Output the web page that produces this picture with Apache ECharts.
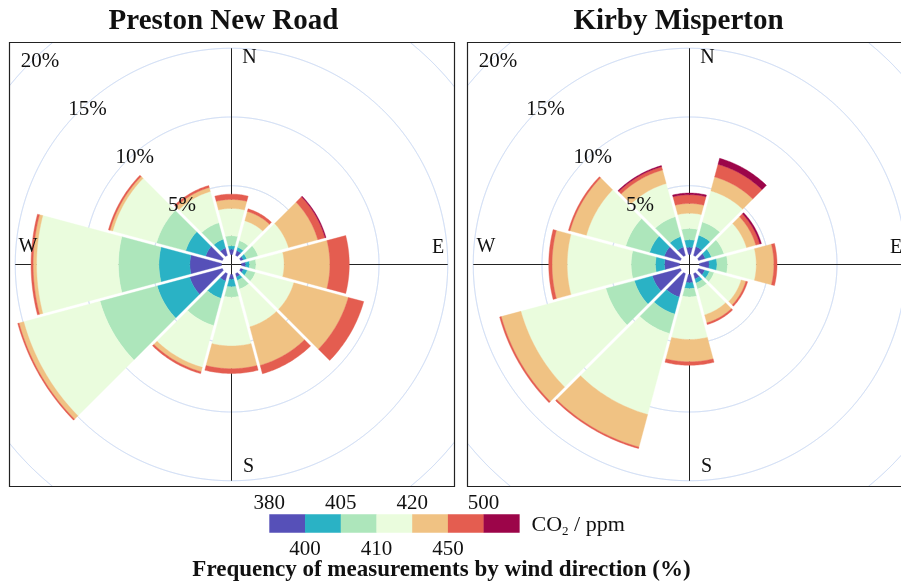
<!DOCTYPE html>
<html><head><meta charset="utf-8">
<script src="https://cdn.jsdelivr.net/npm/echarts@6/dist/echarts.min.js"></script>
<style>html,body{margin:0;padding:0;background:#fff}#c{width:901px;height:587px}</style>
</head><body><div id="c"></div>
<script>
// ---------------- data ----------------
const panelTitles = ['Preston New Road', 'Kirby Misperton'];
const directions = [0, 30, 60, 90, 120, 150, 180, 210, 240, 270, 300, 330];
const dirLabels = ['N', 'E', 'S', 'W'];
const dirAngles = [0, 90, 180, 270];
const radiusTicks = [5, 10, 15, 20];
const binEdges = ['380', '400', '405', '410', '420', '450', '500'];
const binColors = ['#5650B8', '#2AB2C5', '#ADE6BB', '#EAFCDD', '#F0C283', '#E45D50', '#9C0549'];
const bottomTitle = 'Frequency of measurements by wind direction (%)';

// Preston New Road: % of measurements per direction sector, per CO2 bin
const pnr_380_400 = [0.39, 0.35, 0.20, 0.30, 0.20, 0.25, 0.35, 0.55, 2.45, 2.30, 1.25, 0.55];
const pnr_400_405 = [0.24, 0.25, 0.25, 0.28, 0.30, 0.25, 0.55, 1.30, 2.45, 2.25, 1.50, 0.65];
const pnr_405_410 = [0.73, 0.50, 0.85, 0.47, 0.60, 0.65, 0.75, 2.05, 4.30, 2.95, 2.20, 1.25];
const pnr_410_420 = [1.99, 1.50, 2.30, 2.05, 2.90, 2.85, 3.55, 3.15, 5.75, 5.95, 3.30, 2.35];
const pnr_420_450 = [0.65, 0.70, 2.20, 3.33, 4.10, 2.90, 1.65, 0.33, 0.35, 0.25, 0.20, 0.30];
const pnr_450_500 = [0.39, 0.20, 0.55, 1.41, 1.16, 0.63, 0.35, 0.14, 0.10, 0.15, 0.12, 0.15];
const pnr_500_up  = [0.00, 0.00, 0.07, 0.00, 0.00, 0.00, 0.00, 0.00, 0.00, 0.00, 0.00, 0.00];

// Kirby Misperton
const km_380_400 = [0.53, 0.65, 0.50, 0.70, 0.45, 0.40, 0.60, 1.75, 2.10, 1.09, 1.20, 0.62];
const km_400_405 = [0.54, 0.85, 0.45, 0.57, 0.35, 0.30, 0.42, 1.28, 1.35, 0.66, 1.10, 0.78];
const km_405_410 = [0.82, 1.00, 0.95, 0.77, 0.35, 0.45, 0.61, 1.47, 2.15, 1.77, 1.80, 1.50];
const km_410_420 = [1.11, 2.35, 1.70, 2.09, 2.05, 1.95, 3.10, 6.10, 6.40, 4.65, 2.97, 2.50];
const km_420_450 = [0.71, 1.05, 0.70, 1.28, 0.35, 0.60, 1.62, 2.45, 1.48, 1.10, 1.23, 1.02];
const km_450_500 = [0.64, 0.95, 0.30, 0.23, 0.13, 0.13, 0.25, 0.11, 0.12, 0.24, 0.12, 0.25];
const km_500_up  = [0.12, 0.45, 0.12, 0.00, 0.00, 0.00, 0.00, 0.00, 0.00, 0.00, 0.00, 0.08];

const sites = [
  [pnr_380_400, pnr_400_405, pnr_405_410, pnr_410_420, pnr_420_450, pnr_450_500, pnr_500_up],
  [km_380_400, km_400_405, km_405_410, km_410_420, km_420_450, km_450_500, km_500_up]
];

// ---------------- layout / style ----------------
const FONT = '"Liberation Serif", "DejaVu Serif", serif';
const centers = [[231.5, 264.5], [689.5, 264.5]];
const frames = [[9.5, 42.5, 445, 444], [467.5, 42.5, 444, 444]];
const SECTOR_HALF = 15;   // degrees
const GAP = 1.6;          // px, half gap between sectors
const GRID_COLOR = '#C2D4F4';

function norm(a) { return ((a % 360) + 360) % 360; }

function buildSegments(bins) {
  const out = [];
  directions.forEach((ang, i) => {
    let cum = 0;
    bins.forEach((arr, b) => {
      const v = arr[i];
      if (v > 0) out.push([cum, cum + v, ang, b]);
      cum += v;
    });
  });
  return out;
}

function renderSeg(params, api) {
  const v0 = api.value(0), v1 = api.value(1), ang = api.value(2), bin = api.value(3);
  const cs = params.coordSys;
  const cx = cs.cx, cy = cs.cy;
  const pt = (v, a) => api.coord([v, norm(a)]);
  const rad = (v) => { const p = pt(v, ang); return Math.hypot(p[0] - cx, p[1] - cy); };
  const r0 = rad(v0), r1 = rad(v1);
  const d0 = Math.asin(Math.min(0.99, GAP / r0)) * 180 / Math.PI;
  const d1 = Math.asin(Math.min(0.99, GAP / r1)) * 180 / Math.PI;
  const pts = [];
  const N = 30;
  const s1 = ang - SECTOR_HALF + d1, e1 = ang + SECTOR_HALF - d1;
  for (let k = 0; k <= N; k++) pts.push(pt(v1, s1 + (e1 - s1) * k / N));
  const s0 = ang - SECTOR_HALF + d0, e0 = ang + SECTOR_HALF - d0;
  for (let k = N; k >= 0; k--) pts.push(pt(v0, s0 + (e0 - s0) * k / N));
  const c = binColors[bin];
  return { type: 'polygon', shape: { points: pts }, style: { fill: c, stroke: c, lineWidth: 0.4 } };
}

function makeGridRenderer(frame) {
  const x0 = frame[0], y0 = frame[1], x1 = frame[0] + frame[2], y1 = frame[1] + frame[3];
  return function (params, api) {
    const v = api.value(0);
    const children = [];
    let cur = [];
    for (let a = 0; a <= 3600; a++) {
      const p = api.coord([v, norm(a / 10)]);
      const inside = p[0] >= x0 && p[0] <= x1 && p[1] >= y0 && p[1] <= y1;
      if (inside) cur.push(p);
      else if (cur.length) { if (cur.length > 1) children.push(cur); cur = []; }
    }
    if (cur.length > 1) children.push(cur);
    return { type: 'group', children: children.map(pts => ({ type: 'polyline', shape: { points: pts },
      style: { stroke: GRID_COLOR, lineWidth: 1, fill: null } })) };
  };
}

function renderCross(params, api) {
  const cs = params.coordSys;
  const p = api.coord([15, norm(api.value(0))]);
  return { type: 'line', shape: { x1: cs.cx, y1: cs.cy, x2: p[0], y2: p[1] },
           style: { stroke: '#222', lineWidth: 1 } };
}

function renderTick(params, api) {
  const v = api.value(0);
  const p = api.coord([0.98 * v - 0.73, 315.4]);
  return { type: 'text', x: p[0] - 2.2, y: p[1] - 11.5,
           style: { text: v + '%', font: '21px ' + FONT, fill: '#111', align: 'center', verticalAlign: 'middle' } };
}

const dirOffsets = [[18, 0], [0, -17], [17, -4], [3, -18]];
function renderDir(params, api) {
  const i = params.dataIndex;
  const p = api.coord([14.3, dirAngles[i]]);
  return { type: 'text', x: p[0] + dirOffsets[i][0], y: p[1] + dirOffsets[i][1],
           style: { text: dirLabels[i], font: '20px ' + FONT, fill: '#111', align: 'center', verticalAlign: 'middle' } };
}

const polar = [], angleAxis = [], radiusAxis = [], series = [];
centers.forEach((c, pi) => {
  polar.push({ center: c, radius: [10, 285] });
  angleAxis.push({ polarIndex: pi, type: 'value', min: 0, max: 360, startAngle: 90, clockwise: true,
    axisLine: { show: false }, axisTick: { show: false }, axisLabel: { show: false }, splitLine: { show: false } });
  radiusAxis.push({ polarIndex: pi, type: 'value', min: 0, max: 20, interval: 5,
    axisLine: { show: false }, axisTick: { show: false }, axisLabel: { show: false }, splitLine: { show: false } });
  series.push({ type: 'custom', coordinateSystem: 'polar', polarIndex: pi, z: 0, silent: true,
    data: radiusTicks.map(v => [v]), encode: { radius: 0 }, renderItem: makeGridRenderer(frames[pi]) });
  series.push({ type: 'custom', coordinateSystem: 'polar', polarIndex: pi, z: 1, silent: true,
    data: dirAngles.map(a => [a]), encode: { angle: 0 }, renderItem: renderCross });
  series.push({ type: 'custom', coordinateSystem: 'polar', polarIndex: pi, z: 2, silent: true,
    data: buildSegments(sites[pi]), encode: { radius: 1, angle: 2 }, renderItem: renderSeg });
  series.push({ type: 'custom', coordinateSystem: 'polar', polarIndex: pi, z: 3, silent: true,
    data: radiusTicks.map(v => [v]), encode: { radius: 0 }, renderItem: renderTick });
  series.push({ type: 'custom', coordinateSystem: 'polar', polarIndex: pi, z: 3, silent: true,
    data: dirAngles.map(a => [a]), encode: { angle: 0 }, renderItem: renderDir });
});

// graphics: frames, titles, legend
const graphic = [];
frames.forEach(f => graphic.push({ type: 'rect', z: 60, silent: true,
  shape: { x: f[0], y: f[1], width: f[2], height: f[3] }, style: { fill: null, stroke: '#222', lineWidth: 1.2 } }));
const titleX = [223.5, 678.5];
panelTitles.forEach((t, i) => graphic.push({ type: 'text', z: 100, x: titleX[i], y: 22,
  style: { text: t, font: 'bold 29px ' + FONT, fill: '#111', align: 'center', verticalAlign: 'middle' } }));

const LX = 269.3, LW = 35.72, LY = 514.3, LH = 18.4;
binColors.forEach((c, i) => graphic.push({ type: 'rect', z: 100, silent: true,
  shape: { x: LX + i * LW, y: LY, width: LW + 0.3, height: LH }, style: { fill: c } }));
binEdges.forEach((t, i) => graphic.push({ type: 'text', z: 100, x: LX + i * LW, y: i % 2 === 0 ? 503 : 549,
  style: { text: t, font: '21px ' + FONT, fill: '#111', align: 'center', verticalAlign: 'middle' } }));
graphic.push({ type: 'text', z: 100, x: 531.5, y: 525,
  style: { text: '{a|CO}{b|2}{a| / ppm}', align: 'left', verticalAlign: 'middle',
    rich: { a: { font: '22px ' + FONT, fill: '#111', lineHeight: 26, verticalAlign: 'middle' },
            b: { font: '13px ' + FONT, fill: '#111', lineHeight: 26, verticalAlign: 'bottom' } } } });
graphic.push({ type: 'text', z: 100, x: 441.5, y: 570,
  style: { text: bottomTitle, font: 'bold 23px ' + FONT, fill: '#111', align: 'center', verticalAlign: 'middle' } });

const chart = echarts.init(document.getElementById('c'), null, { renderer: 'canvas' });
chart.setOption({ animation: false, backgroundColor: '#fff', polar, angleAxis, radiusAxis, series, graphic });
</script></body></html>
